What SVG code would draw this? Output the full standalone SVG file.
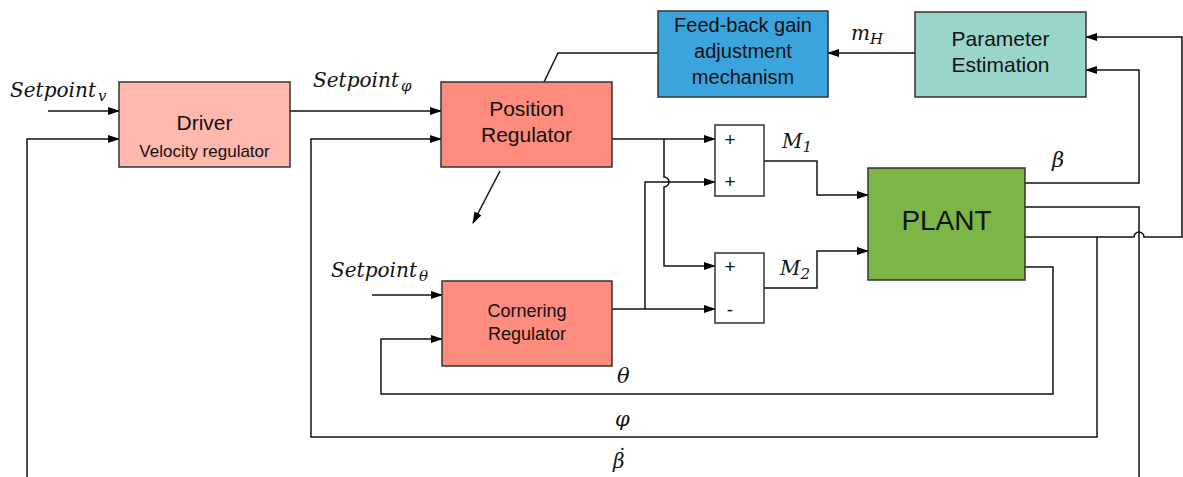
<svg xmlns="http://www.w3.org/2000/svg" width="1183" height="477" viewBox="0 0 1183 477">
<defs>
<marker id="ah" markerWidth="12" markerHeight="8" refX="11" refY="4" orient="auto" markerUnits="userSpaceOnUse">
<path d="M0,0 L12,4 L0,8 Z" fill="#000"/>
</marker>
<style>
.box{stroke:#333;stroke-width:1.5}
.sans{font-family:"Liberation Sans",Arial,sans-serif;fill:#111}
.math{font-family:"DejaVu Serif","Liberation Serif",serif;font-style:italic;fill:#111}
.c{fill:none;stroke:#111;stroke-width:1.5}
.a{marker-end:url(#ah)}
</style>
</defs>
<rect width="1183" height="477" fill="#fff"/>

<g id="connectors">
<path class="c a" d="M48,111 H119"/>
<path class="c a" d="M27,477 V139 H119"/>
<path class="c a" d="M290,111 H441"/>
<path class="c a" d="M1097,237 V437 H311 V139 H441"/>
<path class="c a" d="M1025,237 H1134 a5,5 0 0 1 10,0 H1182 V37 H1086"/>
<path class="c a" d="M1025,183 H1139 V70 H1086"/>
<path class="c" d="M1025,207 H1139 V477"/>
<path class="c a" d="M1025,267 H1053 V394 H381 V339 H442"/>
<path class="c a" d="M372,295 H442"/>
<path class="c a" d="M612,139 H715"/>
<path class="c a" d="M664,139 V177 a5,5 0 0 1 0,10 V266 H715"/>
<path class="c a" d="M612,309 H715"/>
<path class="c a" d="M645,309 V182 H715"/>
<path class="c a" d="M764,161 H817 V195 H868"/>
<path class="c a" d="M764,288 H817 V251 H868"/>
<path class="c a" d="M915,53 H828"/>
<path class="c" d="M658,53 H558 L544,82"/>
<path class="c a" d="M500,171 L473,223"/>
</g>

<g id="driver">
<rect class="box" x="119" y="82" width="171" height="85" fill="#ffb8ae"/>
<text class="sans" x="204.5" y="130" font-size="21" text-anchor="middle">Driver</text>
<text class="sans" x="204.5" y="157" font-size="17" text-anchor="middle">Velocity regulator</text>
</g>

<g id="position-regulator">
<rect class="box" x="441" y="82" width="171" height="85" fill="#fd8c7e"/>
<text class="sans" x="526.5" y="116" font-size="21" text-anchor="middle">Position</text>
<text class="sans" x="526.5" y="142" font-size="21" text-anchor="middle">Regulator</text>
</g>

<g id="cornering-regulator">
<rect class="box" x="442" y="281" width="170" height="85" fill="#fd8c7e"/>
<text class="sans" x="527" y="317" font-size="18" text-anchor="middle">Cornering</text>
<text class="sans" x="527" y="340" font-size="18" text-anchor="middle">Regulator</text>
</g>

<g id="feedback-gain">
<rect class="box" x="658" y="11" width="170" height="86" fill="#3ba4dd"/>
<text class="sans" x="743" y="32" font-size="20" text-anchor="middle">Feed-back gain</text>
<text class="sans" x="743" y="58" font-size="20" text-anchor="middle">adjustment</text>
<text class="sans" x="743" y="84" font-size="20" text-anchor="middle">mechanism</text>
</g>

<g id="parameter-estimation">
<rect class="box" x="915" y="12" width="171" height="85" fill="#9ad5cb"/>
<text class="sans" x="1000.5" y="46" font-size="21" text-anchor="middle">Parameter</text>
<text class="sans" x="1000.5" y="72" font-size="21" text-anchor="middle">Estimation</text>
</g>

<g id="sum1">
<rect class="box" x="715" y="125" width="49" height="71" fill="#fff"/>
<text class="sans" x="730" y="146" font-size="19" text-anchor="middle">+</text>
<text class="sans" x="730" y="188" font-size="19" text-anchor="middle">+</text>
</g>

<g id="sum2">
<rect class="box" x="715" y="253" width="49" height="70" fill="#fff"/>
<text class="sans" x="730" y="273" font-size="19" text-anchor="middle">+</text>
<text class="sans" x="730" y="316" font-size="19" text-anchor="middle">-</text>
</g>

<g id="plant">
<rect class="box" x="868" y="168" width="157" height="112" fill="#7cb647"/>
<text class="sans" x="946.5" y="230" font-size="28" text-anchor="middle">PLANT</text>
</g>

<g id="labels">
<text class="math" x="10" y="97" font-size="21"><tspan textLength="86" lengthAdjust="spacingAndGlyphs">Setpoint</tspan><tspan font-size="15" dx="2" dy="4">v</tspan></text>
<text class="math" x="313" y="87" font-size="21"><tspan textLength="86" lengthAdjust="spacingAndGlyphs">Setpoint</tspan><tspan font-size="15" dx="2" dy="4">φ</tspan></text>
<text class="math" x="331" y="277" font-size="21"><tspan textLength="86" lengthAdjust="spacingAndGlyphs">Setpoint</tspan><tspan font-size="15" dx="2" dy="4">θ</tspan></text>
<text class="math" x="851" y="40" font-size="20">m<tspan font-size="15" dy="4">H</tspan></text>
<text class="math" x="782" y="148" font-size="20">M<tspan font-size="15" dy="4">1</tspan></text>
<text class="math" x="780" y="275" font-size="20">M<tspan font-size="15" dy="4">2</tspan></text>
<text class="math" x="1052" y="167" font-size="21">β</text>
<text class="math" x="617" y="383" font-size="21">θ</text>
<text class="math" x="615" y="426" font-size="21">φ</text>
<text class="math" x="613" y="468" font-size="20">β<tspan dx="-9" dy="-5">˙</tspan></text>
</g>
</svg>
